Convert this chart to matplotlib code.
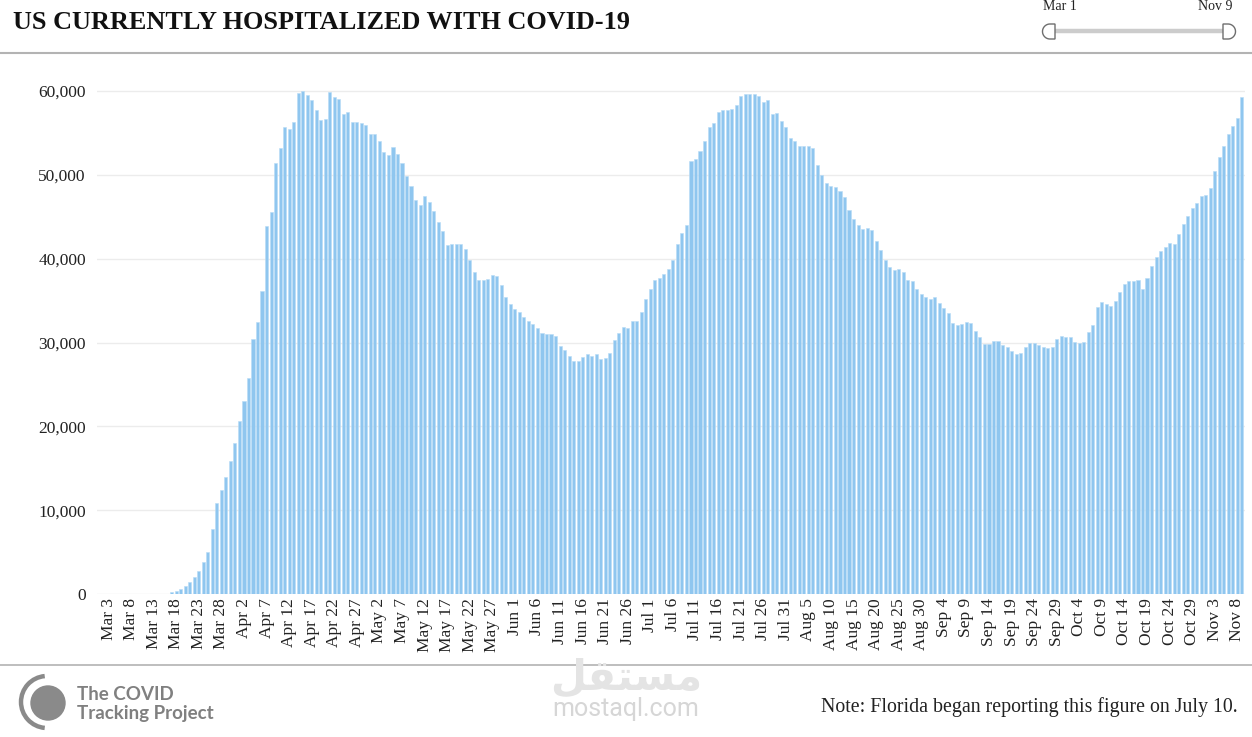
import numpy as np
import pandas as pd
import matplotlib
matplotlib.use("Agg")
import matplotlib.pyplot as plt
from matplotlib import patches
from matplotlib.ticker import FuncFormatter

# ---------------- data ----------------
start_date = "2020-03-01"
end_date = "2020-11-09"
first_reported = "2020-03-17"   # no values before this date
hospitalized = [
    240, 360, 560, 950, 1430, 2030, 2780, 3820, 5010, 7720,
    10820, 12370, 13990, 15830, 18050, 20670, 22980, 25770, 30400, 32400,
    36150, 43940, 45530, 51380, 53170, 55680, 55510, 56270, 59730, 60050,
    59570, 58930, 57740, 56550, 56700, 59850, 59250, 59090, 57300, 57460,
    56270, 56270, 56150, 55950, 54910, 54910, 54000, 52690, 52370, 53290,
    52530, 51450, 49830, 48640, 47000, 46410, 47440, 46730, 45650, 44340,
    43300, 41680, 41720, 41720, 41720, 41120, 39860, 38360, 37420, 37420,
    37580, 38060, 37900, 36860, 35470, 34600, 33960, 33680, 33080, 32610,
    32210, 31700, 31140, 31020, 31020, 30820, 29620, 29070, 28430, 27840,
    27840, 28310, 28590, 28430, 28590, 28000, 28190, 28750, 30270, 31180,
    31890, 31730, 32530, 32530, 33600, 35190, 36390, 37420, 37740, 38210,
    38770, 39850, 41790, 43100, 44020, 51660, 51930, 52850, 54040, 55670,
    56150, 57460, 57740, 57740, 57900, 58340, 59410, 59690, 59690, 59690,
    59410, 58650, 58930, 57230, 57340, 56430, 55670, 54440, 54040, 53410,
    53410, 53410, 53170, 51220, 49990, 48990, 48670, 48520, 48080, 47360,
    45810, 44780, 44020, 43550, 43700, 43420, 42110, 41040, 39850, 39050,
    38650, 38810, 38380, 37460, 37320, 36370, 35750, 35400, 35170, 35470,
    34750, 34150, 33520, 32330, 32050, 32170, 32450, 32330, 31370, 30700,
    29790, 29790, 30180, 30180, 29740, 29500, 28990, 28590, 28710, 29500,
    29940, 29940, 29740, 29500, 29350, 29500, 30380, 30820, 30700, 30700,
    30060, 29940, 30060, 31290, 32050, 34270, 34870, 34560, 34390, 34990,
    36060, 36940, 37300, 37300, 37420, 36350, 37700, 39160, 40240, 40950,
    41430, 41910, 41750, 42950, 44140, 45060, 46090, 46690, 47440, 47600,
    48470, 50420, 52090, 53400, 54910, 55790, 56820, 59250,
]
y_ticks = [0, 10000, 20000, 30000, 40000, 50000, 60000]
title = "US CURRENTLY HOSPITALIZED WITH COVID-19"
note = "Note: Florida began reporting this figure on July 10."
slider_labels = ["Mar 1", "Nov 9"]
logo_lines = ["The COVID", "Tracking Project"]

dates = pd.date_range(start_date, end_date, freq="D")
series = pd.Series(np.nan, index=dates)
series.loc[pd.Timestamp(first_reported):] = hospitalized
xpos = np.arange(len(dates))
tick_idx = xpos[2::5]
tick_labels = [f"{dates[i]:%b} {dates[i].day}" for i in tick_idx]

# ---------------- figure ----------------
W, H = 1252, 737
fig = plt.figure(figsize=(W / 100, H / 100), dpi=100)
fig.patch.set_facecolor("white")

serif = ["Liberation Serif", "DejaVu Serif"]

# overlay in pixel coordinates
ov = fig.add_axes([0, 0, 1, 1])
ov.set_xlim(0, W)
ov.set_ylim(H, 0)
ov.axis("off")
ov.patch.set_visible(False)

# chart axes
ax_left, ax_right, y0px, y60px = 97, 1245, 594, 91
ymax = 61000
px_per_unit = (y0px - y60px) / 60000
ax_h = ymax * px_per_unit
ax = fig.add_axes([ax_left / W, (H - y0px) / H, (ax_right - ax_left) / W, ax_h / H])
ax.patch.set_visible(False)

ax.bar(xpos, series.fillna(0).values, width=0.68, color="#8fc6ef",
       edgecolor="#b9dcf6", linewidth=0.4, zorder=2)
ax.set_xlim(-0.55, 253.7)
ax.set_ylim(0, ymax)
for s in ax.spines.values():
    s.set_visible(False)
ax.set_yticks(y_ticks)
ax.yaxis.set_major_formatter(FuncFormatter(lambda v, p: f"{int(v):,}"))
ax.yaxis.grid(True, color="#ececec", linewidth=1.0, zorder=0)
ax.set_axisbelow(True)
ax.set_xticks(tick_idx)
ax.set_xticklabels(tick_labels, rotation=90)
ax.tick_params(axis="both", length=0, labelsize=12.5, colors="#222222")
ax.tick_params(axis="y", pad=8)
ax.tick_params(axis="x", pad=3)
for lab in ax.get_xticklabels() + ax.get_yticklabels():
    lab.set_family(serif)

# title & separators
ov.text(13, 22, title, fontsize=18.9, fontweight="bold", family=serif,
        va="center", ha="left", color="#111111")
ov.plot([0, W], [53, 53], color="#b3b3b3", lw=1.5, solid_capstyle="butt")
ov.plot([0, W], [665, 665], color="#b3b3b3", lw=1.2, solid_capstyle="butt")

# slider
ov.text(1060, 6, slider_labels[0], fontsize=10, family=serif, ha="center",
        va="center", color="#222222")
ov.text(1215, 6, slider_labels[1], fontsize=10, family=serif, ha="center",
        va="center", color="#222222")
ov.plot([1052, 1226], [31, 31], color="#cccccc", lw=3.2, solid_capstyle="butt")


def d_handle(xflat, direction):
    r = 7.5
    cy = 31.5
    th = np.linspace(-np.pi / 2, np.pi / 2, 40)
    cx = xflat + direction * 5
    arc_x = cx + direction * r * np.cos(th)
    arc_y = cy + r * np.sin(th)
    xs = np.concatenate([[xflat], arc_x, [xflat]])
    ys = np.concatenate([[cy - r], arc_y, [cy + r]])
    poly = patches.Polygon(np.column_stack([xs, ys]), closed=True,
                           facecolor="white", edgecolor="#6e6e6e", lw=1.0,
                           zorder=5)
    ov.add_patch(poly)


d_handle(1055, -1)
d_handle(1223, 1)

# logo
ov.add_patch(patches.Arc((47, 702), 52, 52, theta1=95, theta2=265,
                         lw=3.2, color="#8a8a8a"))
ov.add_patch(patches.Circle((48, 703), 17, color="#8a8a8a"))
ov.text(77, 694, logo_lines[0], fontsize=13.5, family=["Lato", "DejaVu Sans"],
        fontweight="bold", color="#808080", va="center", ha="left")
ov.text(77, 713, logo_lines[1], fontsize=13.5, family=["Lato", "DejaVu Sans"],
        fontweight="bold", color="#808080", va="center", ha="left")

# watermark
ov.text(626, 677, "\uFEDE\uFED8\uFE98\uFEB4\uFEE3", fontsize=30,
        family=["DejaVu Sans"], fontweight="bold", color="#e4e4e4",
        ha="center", va="center")
ov.text(626, 709, "mostaql.com", fontsize=18, family=["Roboto", "DejaVu Sans"],
        color="#d6d6d6", ha="center", va="center")

# note
ov.text(1238, 707, note, fontsize=14.3, family=serif, ha="right",
        va="center", color="#222222")

fig.savefig("out.png", dpi=100, facecolor="white")
